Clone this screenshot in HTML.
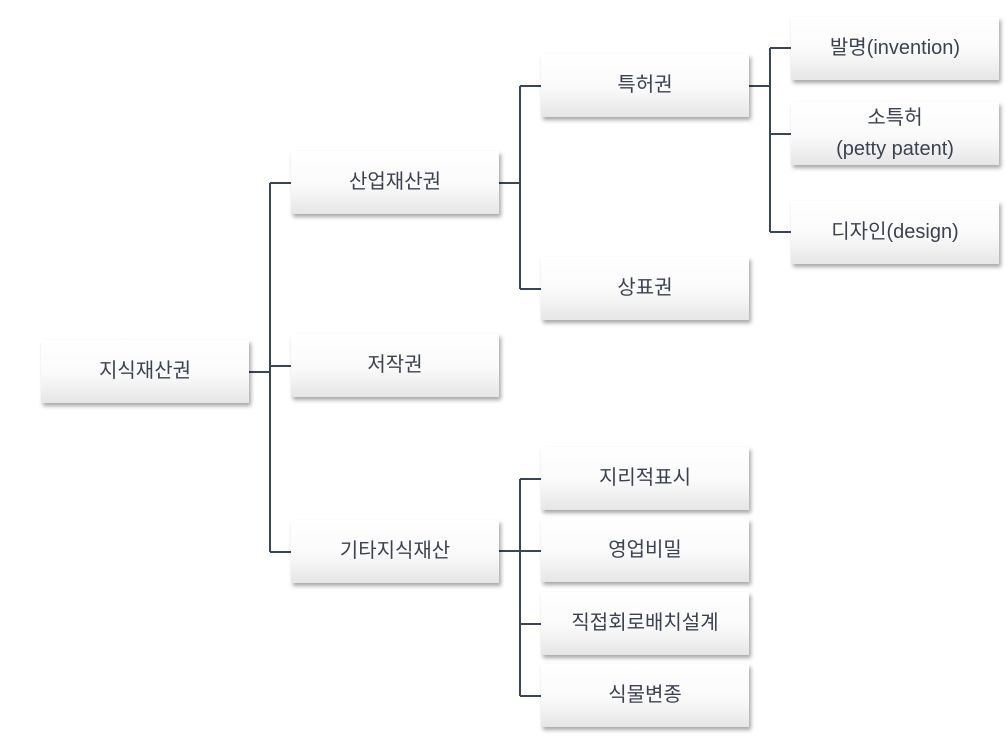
<!DOCTYPE html>
<html><head><meta charset="utf-8"><style>
body{margin:0;width:1007px;height:753px;background:#fff;position:relative;overflow:hidden;font-family:"Liberation Sans","Noto Sans CJK KR",sans-serif;}
.b{position:absolute;width:208px;height:63px;background:linear-gradient(#fff 0%,#fafafa 55%,#e6e6e6 100%);box-shadow:2px 3px 4px rgba(0,0,0,0.35);display:flex;align-items:center;justify-content:center;text-align:center;font-size:20px;color:#3c4250;line-height:31px;}
svg{position:absolute;left:0;top:0}
</style></head><body>
<svg width="1007" height="753"><g stroke="#3a4556" stroke-width="2" fill="none">
<path d="M249 372H270M270 183V552M270 183H291M270 366H291M270 552H291"/>
<path d="M499 183H520M520 86V289M520 86H541M520 289H541"/>
<path d="M499 551H520M520 479V696M520 479H541M520 551H541M520 624H541M520 696H541"/>
<path d="M749 86H770M770 48V232M770 48H791M770 134H791M770 232H791"/>
</g></svg>
<div class="b" style="left:41px;top:340px">지식재산권</div>
<div class="b" style="left:291px;top:151px">산업재산권</div>
<div class="b" style="left:291px;top:334px">저작권</div>
<div class="b" style="left:291px;top:520px">기타지식재산</div>
<div class="b" style="left:541px;top:54px">특허권</div>
<div class="b" style="left:541px;top:257px">상표권</div>
<div class="b" style="left:541px;top:447px">지리적표시</div>
<div class="b" style="left:541px;top:519px">영업비밀</div>
<div class="b" style="left:541px;top:592px">직접회로배치설계</div>
<div class="b" style="left:541px;top:664px">식물변종</div>
<div class="b" style="left:791px;top:17px">발명(invention)</div>
<div class="b" style="left:791px;top:102px">소특허<br>(petty patent)</div>
<div class="b" style="left:791px;top:201px">디자인(design)</div>
</body></html>
